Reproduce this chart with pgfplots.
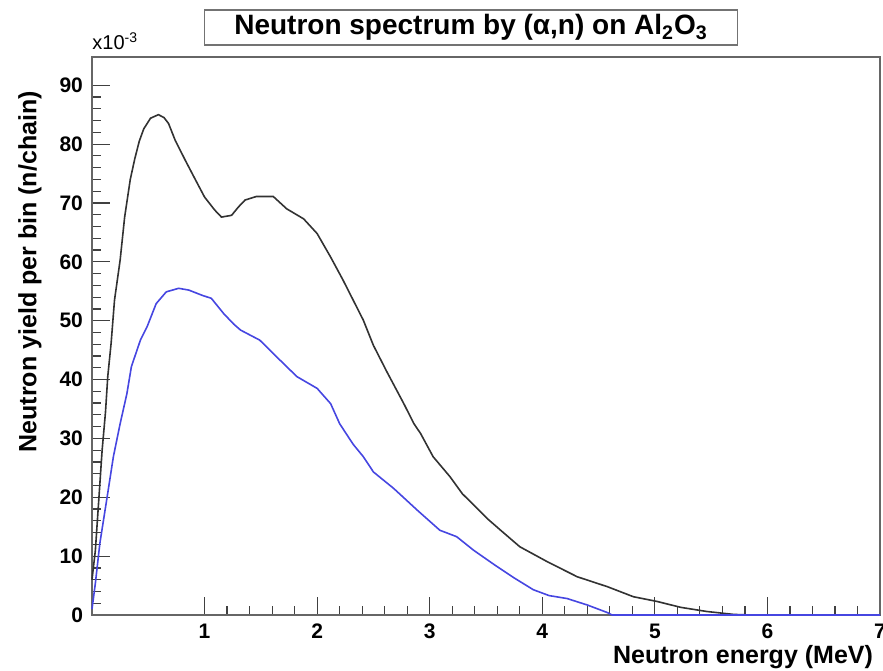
\documentclass[border=0pt]{standalone}
\usepackage{pgfplots}
\pgfplotsset{compat=1.18}
\usepackage{fontspec}
\setmainfont{Liberation Sans}
\definecolor{curveblack}{RGB}{50,50,50}
\definecolor{curveblue}{RGB}{70,70,225}
\begin{document}
\begin{tikzpicture}
\useasboundingbox (-46pt,-27.5pt) rectangle (395.5pt,307.5pt);
\begin{axis}[
  at={(0,0)}, anchor=south west,
  scale only axis, width=394pt, height=279pt,
  xmin=0, xmax=7, ymin=0, ymax=94.8,
  xtick={1,2,3,4,5,6,7},
  ytick={0,10,20,30,40,50,60,70,80,90},
  minor x tick num=4, minor y tick num=4,
  tick pos=left, tick align=inside,
  tick style={black!75, line width=0.6pt},
  major tick length=9pt, minor tick length=4.5pt,
  axis line style={black!60, line width=0.9pt},
  /pgf/number format/assume math mode=true,
  ticklabel style={font=\fontsize{10.5}{12}\selectfont\bfseries},
  xticklabel style={yshift=-1pt},
  yticklabel style={xshift=-1pt},
  xlabel={Neutron energy (MeV)},
  ylabel={Neutron yield per bin (n/chain)},
  label style={font=\fontsize{12.5}{14}\selectfont\bfseries},
  xlabel style={at={(axis description cs:1,0)}, anchor=east, yshift=-21pt},
  ylabel style={at={(axis description cs:-0.0787,0.615)}, anchor=center},
  title={Neutron spectrum by (α,n) on Al\textsubscript{2}O\textsubscript{3}},
  title style={at={(axis description cs:0.481,1)}, anchor=center, yshift=8.75pt,
    draw=black!55, line width=0.9pt, fill=white, minimum width=266.5pt, minimum height=17.5pt,
    inner sep=1pt, font=\fontsize{14}{16}\selectfont\bfseries},
  clip=false,
]
\addplot[curveblack, line width=0.8pt] coordinates {
(0,6) (0.03,11) (0.06,19.5) (0.09,28) (0.12,34.5) (0.14,40.5) (0.17,46.2)
(0.20,53.5) (0.25,60.3) (0.29,67.6) (0.34,74.0) (0.38,77.5) (0.42,80.5) (0.46,82.6)
(0.52,84.4) (0.59,85.0) (0.64,84.5) (0.68,83.5) (0.74,80.6) (0.83,77.2)
(0.92,73.9) (1.00,71.0) (1.09,68.8) (1.15,67.6) (1.24,67.9) (1.30,69.3)
(1.36,70.5) (1.46,71.1) (1.61,71.1) (1.73,69.0) (1.88,67.3) (2.00,64.8)
(2.12,60.8) (2.23,56.9) (2.32,53.5) (2.41,50.1) (2.50,45.8) (2.62,41.3)
(2.77,35.9) (2.86,32.5) (2.92,30.8) (3.03,26.9) (3.18,23.5) (3.29,20.6)
(3.39,18.7) (3.51,16.4) (3.63,14.4) (3.80,11.6) (4.04,9.1) (4.31,6.5)
(4.58,4.8) (4.81,3.1) (5.02,2.3) (5.23,1.3) (5.46,0.6) (5.70,0.1)
(5.85,0) (7.00,0)
};
\addplot[curveblue, line width=0.8pt] coordinates {
(0,1) (0.03,5.4) (0.07,12.2) (0.13,19.5) (0.19,26.9) (0.25,32.5) (0.31,37.6)
(0.35,42.2) (0.43,46.7) (0.49,49.0) (0.57,52.9) (0.66,54.9) (0.77,55.5)
(0.86,55.2) (0.98,54.3) (1.06,53.8) (1.17,51.2) (1.26,49.4) (1.32,48.4)
(1.49,46.7) (1.67,43.3) (1.82,40.5) (2.00,38.5) (2.12,35.9) (2.20,32.5)
(2.32,29.0) (2.41,26.9) (2.50,24.3) (2.68,21.5) (2.89,17.8) (3.09,14.4)
(3.24,13.3) (3.39,11.0) (3.57,8.6) (3.75,6.3) (3.92,4.3) (4.06,3.3)
(4.22,2.8) (4.40,1.7) (4.58,0.4) (4.62,0) (7.00,0)
};
\node[anchor=south west, inner sep=0pt, font=\fontsize{10}{11}\selectfont] at (axis description cs:0,1.012) {x10\textsuperscript{-3}};
\end{axis}
\end{tikzpicture}
\end{document}
